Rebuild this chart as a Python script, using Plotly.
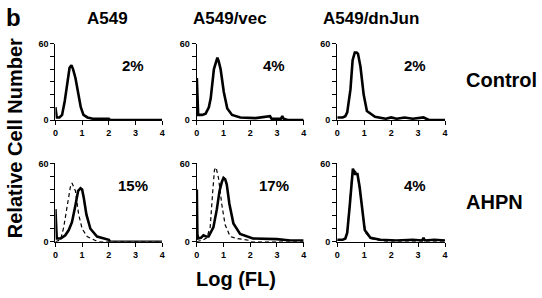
import plotly.graph_objects as go

# ---------------- data ----------------
columns = ["A549", "A549/vec", "A549/dnJun"]
rows = ["Control", "AHPN"]
percent_labels = [["2%", "4%", "2%"], ["15%", "17%", "4%"]]

# Control row, solid histograms
ctrl_a549_x = [0, 0.02, 0.05, 0.15, 0.25, 0.35, 0.45, 0.53, 0.6, 0.66, 0.75, 0.85, 0.95, 1.05, 1.2, 1.4, 1.7, 2.0, 2.05, 4]
ctrl_a549_y = [10, 3, 2, 2, 4, 15, 32, 41, 43, 40, 33, 22, 10, 4, 2, 1, 1, 1, 0, 0]

ctrl_vec_x = [0, 0.02, 0.05, 0.2, 0.33, 0.45, 0.52, 0.64, 0.72, 0.77, 0.82, 0.89, 1.01, 1.14, 1.32, 1.63, 2.2, 2.74, 2.8, 3.15, 3.2, 3.25, 3.4, 4]
ctrl_vec_y = [33, 8, 4, 4, 5, 10, 17, 40, 47, 49, 46, 40, 22, 9, 4, 2, 1.5, 3, 1, 1, 3, 1, 0, 0]

ctrl_dn_x = [0, 0.2, 0.3, 0.37, 0.49, 0.57, 0.65, 0.72, 0.77, 0.86, 0.98, 1.1, 1.4, 1.8, 2.0, 2.2, 2.5, 2.8, 3.2, 3.3, 3.4, 4]
ctrl_dn_y = [2, 2, 3, 6, 24, 47, 53, 53, 52, 42, 20, 7, 2.5, 1, 2, 1, 2, 1, 2, 1, 0, 0]

# AHPN row, solid (treated) and dashed (control overlay) histograms
ahpn_a549_x = [0, 0.02, 0.05, 0.2, 0.37, 0.5, 0.62, 0.75, 0.85, 0.94, 1.0, 1.06, 1.16, 1.31, 1.56, 2.0, 2.05, 4]
ahpn_a549_y = [25, 5, 2.5, 2.5, 5, 9, 15, 28, 39, 41, 40, 34, 21, 10, 4, 1.5, 0, 0]
ahpn_a549_dx = [0, 0.1, 0.19, 0.31, 0.44, 0.56, 0.62, 0.75, 0.87, 1.0, 1.19, 1.5, 1.6, 4]
ahpn_a549_dy = [0, 0.5, 1.5, 11, 27, 42, 45, 39, 21, 10, 4, 1, 0, 0]

ahpn_vec_x = [0, 0.02, 0.05, 0.15, 0.25, 0.35, 0.44, 0.62, 0.75, 0.85, 0.94, 1.0, 1.06, 1.12, 1.22, 1.37, 1.62, 2.1, 3.0, 3.5, 4]
ahpn_vec_y = [40, 6, 2.5, 3, 5, 4, 4, 11, 25, 39, 46, 49, 48, 44, 29, 14, 6, 2.5, 2, 1, 1]
ahpn_vec_dx = [0, 0.1, 0.25, 0.37, 0.5, 0.59, 0.66, 0.72, 0.81, 0.94, 1.06, 1.25, 1.5, 2.0, 2.05, 4]
ahpn_vec_dy = [0, 0.5, 1.5, 3, 11, 37, 55, 57, 49, 28, 13, 4, 2.5, 1, 0, 0]

ahpn_dn_x = [0, 0.2, 0.3, 0.37, 0.46, 0.54, 0.58, 0.66, 0.75, 0.83, 0.93, 1.02, 1.23, 1.6, 2.2, 2.8, 3.15, 3.2, 3.25, 3.6, 4]
ahpn_dn_y = [1.5, 1.5, 2.5, 7, 27, 47, 56, 52, 52, 42, 24, 9, 3, 1.5, 1, 1.5, 1, 3, 1, 1.5, 1]
ahpn_dn_dx = [0, 0.2, 0.3, 0.37, 0.46, 0.54, 0.6, 0.68, 0.76, 0.84, 0.95, 1.05, 1.25, 1.6, 2.0, 4]
ahpn_dn_dy = [1, 1.5, 2.5, 8, 29, 49, 53, 54, 50, 39, 20, 7, 2.5, 1, 0, 0]

x_ticks = [0, 1, 2, 3, 4]
y_ticks = [0, 10, 20, 30, 40, 50, 60]
y_ticktext = ["0", "", "", "", "", "", "60"]

solid = [[(ctrl_a549_x, ctrl_a549_y), (ctrl_vec_x, ctrl_vec_y), (ctrl_dn_x, ctrl_dn_y)],
         [(ahpn_a549_x, ahpn_a549_y), (ahpn_vec_x, ahpn_vec_y), (ahpn_dn_x, ahpn_dn_y)]]
dashed = [[None, None, None],
          [(ahpn_a549_dx, ahpn_a549_dy), (ahpn_vec_dx, ahpn_vec_dy), (ahpn_dn_dx, ahpn_dn_dy)]]

# ---------------- layout geometry ----------------
W, H = 542, 298
col_px = [(53, 161), (196, 304), (338, 447)]
row_px = [(40, 119), (164, 245)]  # top, bottom in pixels

FONT = "Liberation Sans, Arial, Helvetica, sans-serif"

fig = go.Figure()
layout = dict(
    width=W, height=H,
    margin=dict(l=0, r=0, t=0, b=0),
    paper_bgcolor="white", plot_bgcolor="white",
    showlegend=False,
    font=dict(family=FONT, color="black"),
)

annotations = []
idx = 0
for r in range(2):
    for c in range(3):
        idx += 1
        xa = "xaxis" if idx == 1 else f"xaxis{idx}"
        ya = "yaxis" if idx == 1 else f"yaxis{idx}"
        xref = "x" if idx == 1 else f"x{idx}"
        yref = "y" if idx == 1 else f"y{idx}"
        x0, x1 = col_px[c]
        top, bot = row_px[r]
        layout[xa] = dict(
            domain=[x0 / W, x1 / W], range=[0, 4], anchor=yref,
            showline=True, linecolor="black", linewidth=1.3,
            ticks="outside", ticklen=4, tickwidth=1, tickcolor="black",
            tickvals=x_ticks, showgrid=False, zeroline=False,
            tickfont=dict(size=9, family=FONT, weight="bold"),
        )
        layout[ya] = dict(
            domain=[(H - bot) / H, (H - top) / H], range=[0, 60], anchor=xref,
            showline=True, linecolor="black", linewidth=1.3,
            ticks="outside", ticklen=4, tickwidth=1, tickcolor="black",
            tickvals=y_ticks, ticktext=y_ticktext, showgrid=False, zeroline=False,
            tickfont=dict(size=9, family=FONT, weight="bold"),
        )
        d = dashed[r][c]
        if d is not None:
            fig.add_trace(go.Scatter(x=d[0], y=d[1], mode="lines", xaxis=xref, yaxis=yref,
                                     line=dict(color="black", width=1.2, dash="4px,3px"),
                                     hoverinfo="skip", cliponaxis=True))
        s = solid[r][c]
        fig.add_trace(go.Scatter(x=s[0], y=s[1], mode="lines", xaxis=xref, yaxis=yref,
                                 line=dict(color="black", width=2.6),
                                 hoverinfo="skip", cliponaxis=True))
        annotations.append(dict(x=2.9, y=43, xref=xref, yref=yref, text=percent_labels[r][c],
                                xanchor="center", yanchor="middle",
                                showarrow=False, font=dict(size=15, family=FONT, weight="bold")))

# column titles
col_title_x = [106, 230, 372]
for c, name in enumerate(columns):
    annotations.append(dict(x=col_title_x[c] / W, y=(H - 14) / H, xref="paper", yref="paper",
                            xanchor="center", yanchor="middle",
                            text=name, showarrow=False,
                            font=dict(size=17, family=FONT, weight="bold")))
# row labels
row_label_y = [78, 204]
for r, name in enumerate(rows):
    annotations.append(dict(x=466 / W, y=(H - row_label_y[r]) / H, xref="paper", yref="paper",
                            xanchor="left", yanchor="middle", text=name, showarrow=False,
                            font=dict(size=20, family=FONT, weight="bold")))
# panel letter
annotations.append(dict(x=11 / W, y=(H - 13) / H, xref="paper", yref="paper", text="b",
                        xanchor="center", yanchor="middle",
                        showarrow=False, font=dict(size=24, family=FONT, weight="bold")))
# y title
annotations.append(dict(x=13 / W, y=(H - 138) / H, xref="paper", yref="paper",
                        xanchor="center", yanchor="middle",
                        text="Relative Cell Number", textangle=-90, showarrow=False,
                        font=dict(size=20, family=FONT, weight="bold")))
# x title
annotations.append(dict(x=236 / W, y=(H - 284) / H, xref="paper", yref="paper",
                        xanchor="center", yanchor="middle",
                        text="Log (FL)", showarrow=False,
                        font=dict(size=20, family=FONT, weight="bold")))

layout["annotations"] = annotations
fig.update_layout(**layout)
fig.write_html(
    "out.html",
    config={"displayModeBar": False},
    post_script="document.body.style.margin='0px';document.body.style.overflow='hidden';",
)
